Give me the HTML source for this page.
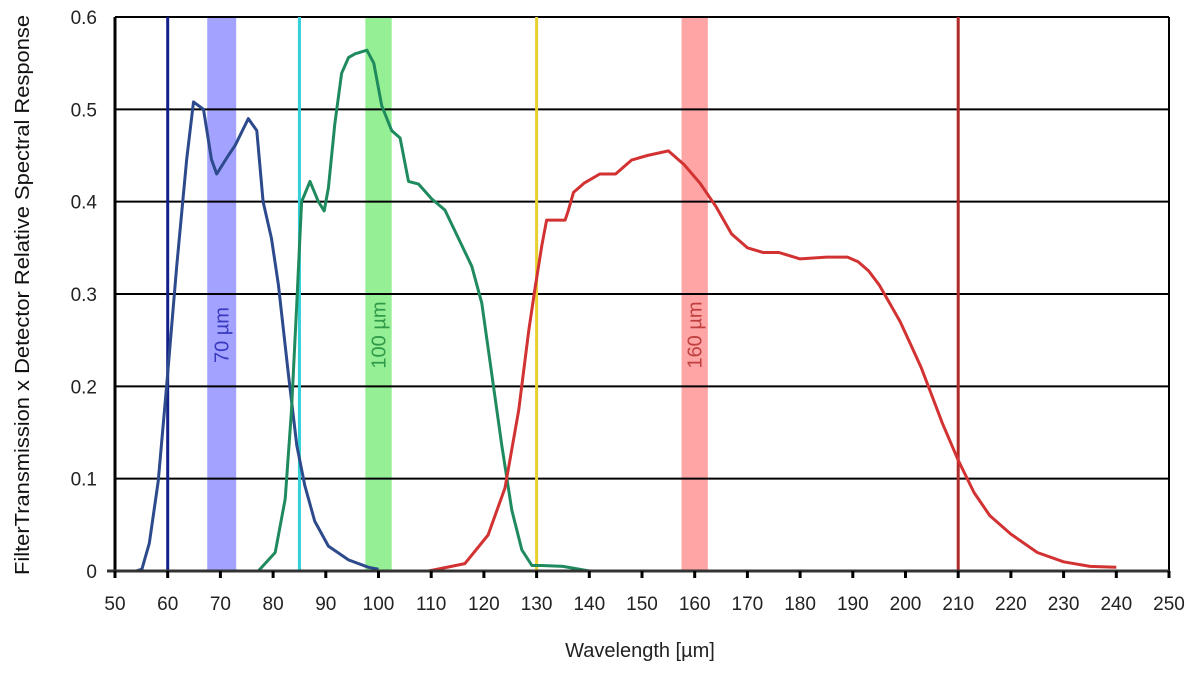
<!DOCTYPE html>
<html><head><meta charset="utf-8"><style>
body{margin:0;background:#fff;font-family:"Liberation Sans",sans-serif}
</style></head><body>
<svg id="chart" width="1200" height="677" xmlns="http://www.w3.org/2000/svg" style="display:block">
<g id="bands"></g><g id="grid"></g><g id="vlines"></g><g id="curves"></g><g id="axes"></g>
</svg>
<script>
const xTicks=[50,60,70,80,90,100,110,120,130,140,150,160,170,180,190,200,210,220,230,240,250];
const yTicks=[0,0.1,0.2,0.3,0.4,0.5,0.6];
const yTickLabels=["0","0.1","0.2","0.3","0.4","0.5","0.6"];
const bandNames=["70 µm","100 µm","160 µm"];
const bandStart=[67.5,97.5,157.5];
const bandEnd=[73,102.5,162.5];
const markerWl=[60,85,130,210];
const blueX=[54,55.1,56.5,58.2,59.8,61.7,63.6,64.9,66.8,68.3,69.3,71.5,72.8,75.3,76.9,78.1,79.7,81,82.9,84.5,86,87.9,90.5,94.3,98.1,100];
const blueY=[0,0.002,0.03,0.097,0.2,0.33,0.446,0.508,0.5,0.446,0.43,0.45,0.461,0.49,0.477,0.4,0.36,0.31,0.213,0.136,0.093,0.054,0.027,0.012,0.004,0.002];
const greenX=[77.2,80.4,82.3,83.5,84.5,85.4,87,88.6,89.7,90.5,91.7,93,94.3,95.5,97.8,99.1,100.6,102.5,104.1,105.7,107.6,110.1,112.6,115.2,117.7,119.6,121.5,123.4,125.3,127.2,129.1,131,135,140];
const greenY=[0,0.02,0.078,0.174,0.29,0.4,0.422,0.4,0.39,0.415,0.484,0.539,0.556,0.56,0.564,0.55,0.504,0.477,0.469,0.422,0.419,0.403,0.391,0.36,0.33,0.29,0.213,0.136,0.066,0.023,0.006,0.006,0.005,0];
const redX=[109.5,116.4,120.8,124,126.6,128.5,129.7,131,131.9,135.4,136,137,139,142,145,148,151,155,158,161,164,167,170,173,176,180,185,189,191,193,195,197,199,201,203,205,207,210,213,216,220,225,230,235,240];
const redY=[0,0.008,0.039,0.09,0.174,0.26,0.306,0.353,0.38,0.38,0.39,0.41,0.42,0.43,0.43,0.445,0.45,0.455,0.44,0.42,0.395,0.365,0.35,0.345,0.345,0.338,0.34,0.34,0.335,0.325,0.31,0.29,0.27,0.245,0.22,0.19,0.16,0.12,0.085,0.06,0.04,0.02,0.01,0.005,0.004];
const X0=115,X1=1169,Y0=571,Y1=17;
const sx=v=>X0+(v-50)/200*(X1-X0);
const sy=v=>Y0-v/0.6*(Y0-Y1);
const NS="http://www.w3.org/2000/svg";
function mk(tag,attrs,parent){const e=document.createElementNS(NS,tag);for(const k in attrs)e.setAttribute(k,attrs[k]);parent.appendChild(e);return e;}
const G=id=>document.getElementById(id);
const bandFill=["#a3a3ff","#95f095","#ffa5a5"],bandText=["#3a3ac0","#2f9a4a","#c04040"];
bandNames.forEach((n,i)=>{
 const r=mk('rect',{x:sx(bandStart[i]),y:Y1,width:sx(bandEnd[i])-sx(bandStart[i]),height:Y0-Y1,fill:bandFill[i]},G('bands'));
 
 
 const cx=(sx(bandStart[i])+sx(bandEnd[i]))/2+7;
 const t=mk('text',{x:cx,y:335,transform:`rotate(-90 ${cx} 335)`,'text-anchor':'middle','font-size':20,fill:bandText[i]},G('bands'));
 t.textContent=n;
 
 
});
yTicks.forEach((v,i)=>{
 const l=mk('line',{x1:X0,x2:X1,y1:sy(v),y2:sy(v),stroke:'#000','stroke-width':2},G('grid'));
 
 
 const t=mk('text',{x:97,y:sy(v)+7,'text-anchor':'end','font-size':19,fill:'#222'},G('axes'));
 t.textContent=yTickLabels[i];
 
 
});
const mColors=["#14208a","#33d0d8","#e8d030","#b02a2a"];
markerWl.forEach((w,i)=>{
 const l=mk('line',{x1:sx(w),x2:sx(w),y1:Y1,y2:Y0,stroke:mColors[i],'stroke-width':3},G('vlines'));
 
 
});
function curve(xs,ys,color,name){
 const d=xs.map((x,i)=>(i?'L':'M')+sx(x).toFixed(1)+','+sy(ys[i]).toFixed(1)).join('');
 const p=mk('path',{d,fill:'none',stroke:color,'stroke-width':3,'stroke-linejoin':'round'},G('curves'));
 
 
}
curve(blueX,blueY,'#2d4a8c','curve-70um');
curve(greenX,greenY,'#1f8a5e','curve-100um');
curve(redX,redY,'#d23232','curve-160um');
const ax=G('axes');
let a=mk('line',{x1:X0,x2:X0,y1:Y1,y2:Y0+1,stroke:'#000','stroke-width':3},ax);

a=mk('line',{x1:X1,x2:X1,y1:Y1,y2:Y0,stroke:'#000','stroke-width':2},ax);

a=mk('line',{x1:X0-8,x2:X1,y1:Y0,y2:Y0,stroke:'#333','stroke-width':3},ax);

xTicks.forEach(v=>{
 mk('line',{x1:sx(v),x2:sx(v),y1:Y0,y2:Y0+7,stroke:'#000','stroke-width':3},ax);
 const t=mk('text',{x:sx(v),y:610,'text-anchor':'middle','font-size':19,fill:'#222'},ax);
 t.textContent=v;
 
 
});
let t=mk('text',{x:640,y:657,'text-anchor':'middle','font-size':20,fill:'#222'},ax);
t.textContent='Wavelength [µm]';

t=mk('text',{x:29,y:295,transform:'rotate(-90 29 295)','text-anchor':'middle','font-size':20,fill:'#111',textLength:560,lengthAdjust:'spacingAndGlyphs'},ax);
t.textContent='FilterTransmission x Detector Relative Spectral Response';

</script>
</body></html>
